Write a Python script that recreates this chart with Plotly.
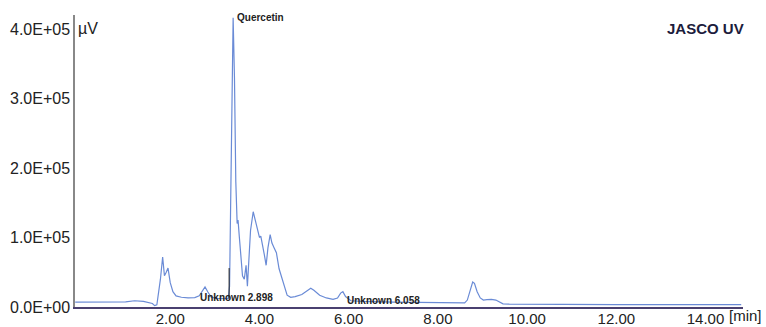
import plotly.graph_objects as go

# Retention time (min) and detector signal (µV)
time_min = [-0.13, 0.5, 1.0, 1.2, 1.4, 1.6, 1.65, 1.70, 1.74, 1.78, 1.83, 1.87, 1.91, 1.95,
            2.00, 2.06, 2.13, 2.25, 2.40, 2.55, 2.65, 2.72, 2.78, 2.84, 2.92, 3.05, 3.20,
            3.30, 3.33, 3.36, 3.39, 3.41, 3.44, 3.47, 3.50, 3.52, 3.55, 3.58, 3.62, 3.66,
            3.70, 3.73, 3.76, 3.80, 3.86, 3.90, 3.95, 4.00, 4.03, 4.07, 4.11, 4.15, 4.19,
            4.24, 4.28, 4.33, 4.38, 4.44, 4.50, 4.56, 4.62, 4.70, 4.80, 4.95, 5.05, 5.15,
            5.22, 5.35, 5.50, 5.65, 5.75, 5.82, 5.87, 5.93, 6.05, 6.30, 7.00, 7.80, 8.40,
            8.60, 8.66, 8.72, 8.78, 8.82, 8.88, 8.95, 9.02, 9.10, 9.20, 9.30, 9.38, 9.46,
            9.60, 10.50, 12.00, 13.50, 14.80]
signal_uv = [7000, 7000, 7500, 9000, 8000, 5000, 2000, 3000, 20000, 40000, 72000, 45000, 50000, 56000,
             35000, 22000, 16000, 14000, 13000, 13500, 16000, 24000, 29000, 22000, 14000, 12500, 12000,
             12000, 30000, 150000, 330000, 416000, 330000, 180000, 120000, 125000, 100000, 70000, 45000, 40000,
             60000, 30000, 60000, 110000, 137000, 125000, 110000, 100000, 102000, 90000, 75000, 60000, 85000,
             104000, 92000, 85000, 78000, 55000, 42000, 28000, 17000, 14000, 15000, 18000, 22000, 27000,
             24000, 17000, 13000, 11000, 13000, 20000, 22000, 15000, 9000, 8000, 7000, 6000, 5500,
             6000, 10000, 24000, 36000, 34000, 22000, 13000, 10000, 10500, 11000, 10000, 7000, 4500,
             4000, 3500, 3500, 3500, 3500]

y_tick_vals = [0, 100000, 200000, 300000, 400000]
y_tick_text = ["0.0E+00", "1.0E+05", "2.0E+05", "3.0E+05", "4.0E+05"]
x_tick_vals = [2, 4, 6, 8, 10, 12, 14]
x_tick_text = ["2.00", "4.00", "6.00", "8.00", "10.00", "12.00", "14.00"]

peak_labels = ["Quercetin", "Unknown 2.898", "Unknown 6.058"]
peak_label_x = [3.45, 2.62, 5.92]
peak_label_y = [416000, 14000, 10000]

marker_x = [3.32, 3.32]
marker_y = [12000, 56000]

fig = go.Figure()
fig.add_trace(go.Scatter(x=time_min, y=signal_uv, mode="lines",
                         line=dict(color="#6a8bd6", width=1.2), showlegend=False,
                         hoverinfo="skip"))
fig.add_trace(go.Scatter(x=marker_x, y=marker_y, mode="lines",
                         line=dict(color="#222222", width=1), showlegend=False,
                         hoverinfo="skip"))

for txt, xx, yy in zip(peak_labels, peak_label_x, peak_label_y):
    fig.add_annotation(x=xx, y=yy, xref="x", yref="y", text="<b>" + txt + "</b>", showarrow=False,
                       xanchor="left", yanchor="middle",
                       font=dict(family="Liberation Sans", size=10, color="#222222"))

fig.add_annotation(x=0.0015, y=4.0e5, xref="paper", yref="y", text="µV", showarrow=False,
                   xanchor="left", yanchor="middle",
                   font=dict(family="Liberation Sans", size=16, color="#222222"))
fig.add_annotation(x=1.032, y=-0.028, xref="paper", yref="paper", text="[min]", showarrow=False,
                   xanchor="right", yanchor="middle",
                   font=dict(family="Liberation Sans", size=15, color="#222222"))
fig.add_annotation(x=1.005, y=4.0e5, xref="paper", yref="y", text="<b>JASCO UV</b>", showarrow=False,
                   xanchor="right", yanchor="middle",
                   font=dict(family="Liberation Sans", size=15, color="#1c1c3c"))

fig.update_layout(
    width=766, height=327,
    margin=dict(l=75, r=23, t=15, b=20),
    paper_bgcolor="white", plot_bgcolor="white",
    font=dict(family="Liberation Sans", size=16, color="#222222"),
)
fig.update_xaxes(range=[-0.135, 14.84], tickvals=x_tick_vals, ticktext=x_tick_text,
                 showgrid=False, zeroline=False, showline=True, linecolor="#4a4070",
                 linewidth=1.5, ticks="", ticklabelstandoff=-3, automargin=False,
                 tickfont=dict(size=15))
fig.update_yaxes(range=[0, 4.2e5], tickvals=y_tick_vals, ticktext=y_tick_text,
                 showgrid=False, zeroline=False, showline=True, linecolor="#888888",
                 linewidth=1.5, ticks="", ticklabelstandoff=0, automargin=False)

fig.write_html("out.html", config={"displayModeBar": False},
               post_script="document.body.style.margin='0';")
